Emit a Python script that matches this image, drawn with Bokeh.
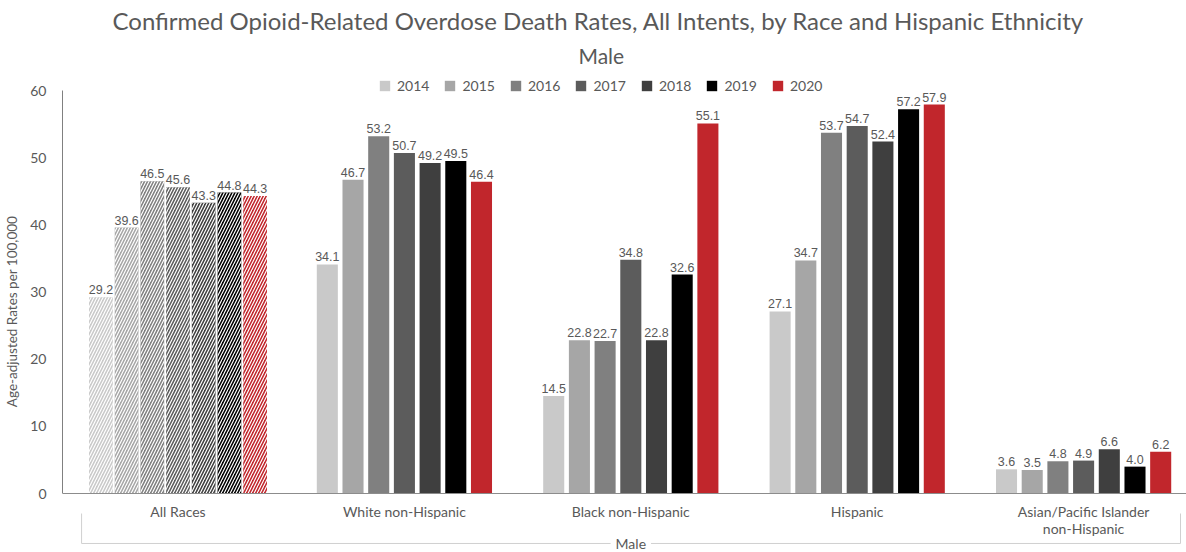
from bokeh.plotting import figure
from bokeh.models import (ColumnDataSource, Range1d, FixedTicker, Span, Legend,
                          LegendItem, Title)
from bokeh.transform import dodge
from bokeh.core.properties import value
from bokeh.embed import file_html
from bokeh.resources import INLINE

# ---------------- data ----------------
categories = ["All Races", "White non-Hispanic", "Black non-Hispanic", "Hispanic",
              "Asian/Pacific Islander\nnon-Hispanic"]
years = ["2014", "2015", "2016", "2017", "2018", "2019", "2020"]
rates_2014 = [29.2, 34.1, 14.5, 27.1, 3.6]
rates_2015 = [39.6, 46.7, 22.8, 34.7, 3.5]
rates_2016 = [46.5, 53.2, 22.7, 53.7, 4.8]
rates_2017 = [45.6, 50.7, 34.8, 54.7, 4.9]
rates_2018 = [43.3, 49.2, 22.8, 52.4, 6.6]
rates_2019 = [44.8, 49.5, 32.6, 57.2, 4.0]
rates_2020 = [44.3, 46.4, 55.1, 57.9, 6.2]
y_ticks = [0, 10, 20, 30, 40, 50, 60]
group_label = "Male"
title_text = "Confirmed Opioid-Related Overdose Death Rates, All Intents, by Race and Hispanic Ethnicity"
y_label = "Age-adjusted Rates per 100,000"

series = [rates_2014, rates_2015, rates_2016, rates_2017, rates_2018, rates_2019, rates_2020]
colors = ["#c9c9c9", "#a6a6a6", "#808080", "#5c5c5c", "#3f3f3f", "#000000", "#c1262c"]

TXT = "#595959"
FONT = value("Lato")

p = figure(width=1186, height=552, output_backend="svg", toolbar_location=None,
           x_range=Range1d(-0.5102, 4.4545), y_range=Range1d(-8.784, 62.978),
           min_border_left=62, min_border_right=0, min_border_bottom=0,
           min_border_top=70, background_fill_color="white",
           border_fill_color="white", outline_line_color=None)
p.xgrid.visible = False
p.ygrid.visible = False
p.xaxis.visible = False

yax = p.yaxis[0]
yax.ticker = FixedTicker(ticks=y_ticks)
yax.bounds = (y_ticks[0], y_ticks[-1])
yax.axis_line_color = "#808080"
yax.major_tick_line_color = None
yax.major_tick_out = 0
yax.major_tick_in = 0
yax.minor_tick_line_color = None
yax.minor_tick_out = 0
yax.major_label_text_font = "Lato"
yax.major_label_text_font_size = "14px"
yax.major_label_text_color = TXT
yax.major_label_standoff = 16
yax.axis_label = y_label
yax.axis_label_text_font = "Lato"
yax.axis_label_text_font_size = "13.5px"
yax.axis_label_text_font_style = "normal"
yax.axis_label_text_color = TXT
yax.axis_label_standoff = 7

# baseline
p.add_layout(Span(location=0, dimension="width", line_color="#8c8c8c", line_width=1))

pitch = 0.1135
idx = list(range(len(categories)))
legend_items = []
for j, (yr, vals, col) in enumerate(zip(years, series, colors)):
    off = (j - 3) * pitch
    # All Races (hatched)
    src_h = ColumnDataSource(dict(x=idx[:1], top=vals[:1]))
    p.vbar(x=dodge("x", off), top="top", width=0.105, source=src_h,
           fill_color=col, line_color=None, hatch_pattern="/",
           hatch_color="white", hatch_weight=1.2, hatch_scale=6)
    # other groups (solid)
    src_s = ColumnDataSource(dict(x=idx[1:], top=vals[1:]))
    r = p.vbar(x=dodge("x", off), top="top", width=0.093, source=src_s,
               fill_color=col, line_color=None)
    legend_items.append(LegendItem(label=yr, renderers=[r]))
    # value labels
    src_t = ColumnDataSource(dict(x=idx, y=vals, t=[f"{v:.1f}" for v in vals]))
    p.text(x=dodge("x", off), y="y", text="t", source=src_t,
           text_align="center", text_baseline="bottom", y_offset=-3,
           text_font=value("Liberation Sans"), text_font_size="12.5px",
           text_color=TXT)

# category labels
p.text(x=idx, y=[0] * len(idx), text=categories, text_align="center",
       text_baseline="top", y_offset=9, text_font=FONT, text_font_size="14px",
       text_color=TXT, text_line_height=1.0)

# group bracket
p.line(x=[-0.426, -0.426, 4.428, 4.428], y=[-2.98, -7.44, -7.44, -2.98],
       line_color="#d0d0d0", line_width=1)
p.text(x=[2], y=[-7.44], text=[group_label], text_align="center",
       text_baseline="middle", text_font=FONT, text_font_size="14px",
       text_color=TXT, background_fill_color="white", padding=5)

legend = Legend(items=legend_items, orientation="horizontal", location=(316, 458),
                glyph_width=13, glyph_height=13, label_height=13, label_standoff=6,
                spacing=14, padding=0, margin=0, border_line_color=None,
                background_fill_alpha=0, label_text_font="Lato",
                label_text_font_size="14px", label_text_color=TXT)
p.add_layout(legend)

p.add_layout(Title(text=group_label, align="left", offset=516, text_font="Lato",
                   text_font_size="21px", text_font_style="normal",
                   text_color=TXT, standoff=6), "above")
p.add_layout(Title(text=title_text, align="left", offset=50, text_font="Lato",
                   text_font_size="24px", text_font_style="normal",
                   text_color=TXT, standoff=6), "above")

open("out.html", "w").write(file_html(p, INLINE))
